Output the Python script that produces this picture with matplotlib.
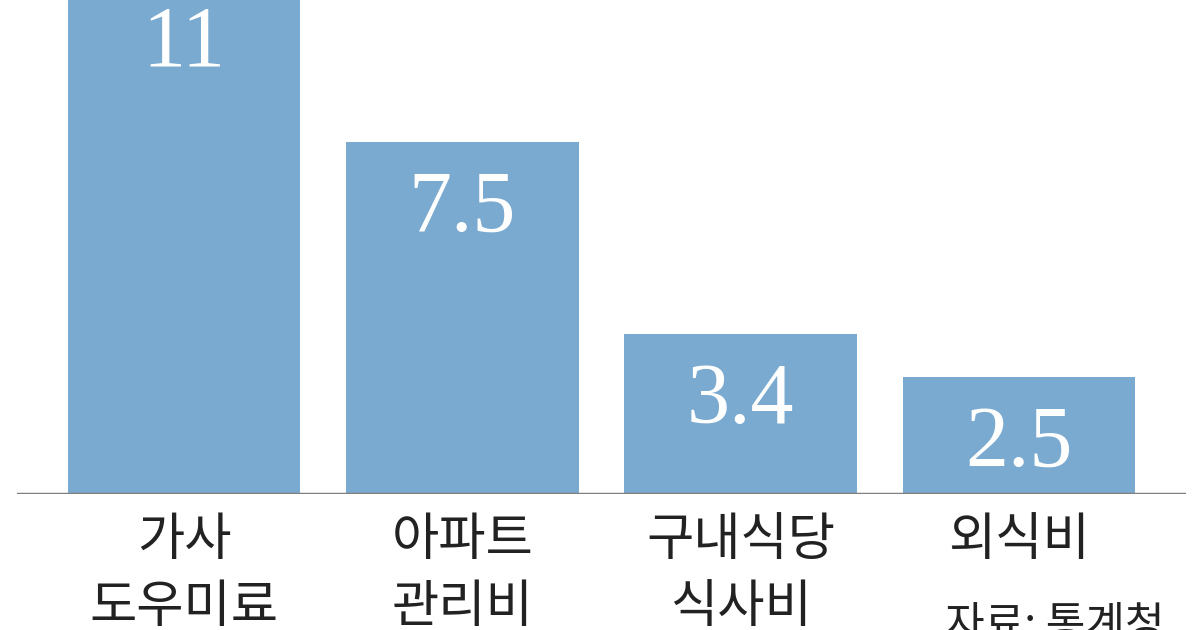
import matplotlib
matplotlib.use("Agg")
import matplotlib.pyplot as plt

plt.rcParams['font.family'] = ['Noto Sans CJK KR', 'DejaVu Sans']

categories = ['가사\n도우미료', '아파트\n관리비', '구내식당\n식사비', '외식비']
values = [11, 7.5, 3.4, 2.5]
value_labels = ['11', '7.5', '3.4', '2.5']
source = '자료: 통계청'

BAR_COLOR = '#7baad0'

fig = plt.figure(figsize=(12, 6.3), dpi=100)
# baseline sits 494 px below the top, axes runs up to the top edge (tallest bar is cut off)
ax = fig.add_axes([17 / 1200, 136 / 630, 1169 / 1200, 494 / 630])

x = list(range(len(categories)))
ax.bar(x, values, width=0.835, color=BAR_COLOR, zorder=2)
ax.set_xlim(-0.6, 3.6)
ax.set_ylim(0, 494 / 47.0)

for xi, v, lab in zip(x, values, value_labels):
    ax.annotate(lab, xy=(xi, v), xytext=(0, -49), textcoords='offset points',
                ha='center', va='center', color='white', fontsize=62,
                family='Liberation Serif', zorder=3, annotation_clip=False)

ax.axhline(0, color='#808080', lw=2.5, zorder=4)

for s in ax.spines.values():
    s.set_visible(False)
ax.set_yticks([])
ax.set_xticks(x)
ax.set_xticklabels(categories, fontsize=37, color='#222222', linespacing=1.32,
                   fontweight='light')
ax.tick_params(axis='x', length=0, pad=14)

fig.text(945 / 1200, 1 - 604 / 630, source, ha='left', va='top', fontsize=31,
         color='#222222', fontweight='light')

fig.savefig('out.png', dpi=100)
